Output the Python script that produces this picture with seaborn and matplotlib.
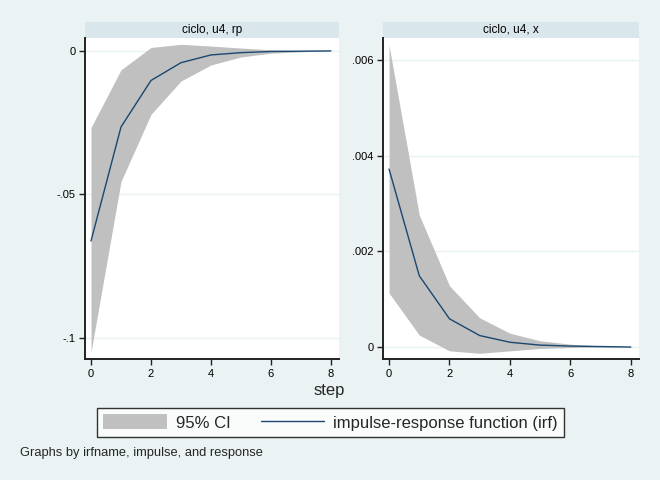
import numpy as np
import pandas as pd
import seaborn as sns
import matplotlib.pyplot as plt
from matplotlib.patches import Patch, Rectangle
from matplotlib.lines import Line2D
from matplotlib.ticker import FuncFormatter

# impulse responses
step = [0, 1, 2, 3, 4, 5, 6, 7, 8]

rp_irf = [-0.0662, -0.0265, -0.0103, -0.0041, -0.0014, -0.0006, -0.0002, -0.0001, 0.0]
rp_lo = [-0.1049, -0.0455, -0.0221, -0.0105, -0.0049, -0.0021, -0.0008, -0.0003, 0.0]
rp_hi = [-0.0267, -0.0066, 0.0012, 0.0023, 0.0017, 0.0010, 0.0004, 0.0001, 0.0]

x_irf = [0.00372, 0.00149, 0.00059, 0.00024, 0.00010, 0.00004, 0.00002, 0.00001, 0.0]
x_lo = [0.00113, 0.00025, -0.00008, -0.00013, -0.00008, -0.00003, -0.00001, 0.0, 0.0]
x_hi = [0.00631, 0.00276, 0.00128, 0.00061, 0.00029, 0.00013, 0.00006, 0.00002, 0.0]

panels = ["ciclo, u4, rp", "ciclo, u4, x"]
rp_ticks = [-0.1, -0.05, 0]
x_ticks = [0, 0.002, 0.004, 0.006]

df = pd.DataFrame({
    "step": step * 2,
    "irf": rp_irf + x_irf,
    "lo": rp_lo + x_lo,
    "hi": rp_hi + x_hi,
    "panel": [panels[0]] * 9 + [panels[1]] * 9,
})

sns.set_theme(style="white")
plt.rcParams["font.family"] = ["Liberation Sans", "DejaVu Sans"]

bg = "#eaf2f3"
strip = "#d9e6eb"
ci_col = "#c0c0c0"
line_col = "#1a476f"

W, H = 660, 480
fig = plt.figure(figsize=(6.6, 4.8), dpi=100, facecolor=bg)


def box(l, t, r, b):
    return [l / W, 1 - b / H, (r - l) / W, (b - t) / H]


def stata_fmt(v, pos):
    if abs(v) < 1e-12:
        return "0"
    s = ("%g" % v)
    s = s.replace("0.", ".")
    return s


ax1 = fig.add_axes(box(85, 38, 339, 359))
ax2 = fig.add_axes(box(383, 38, 639, 359))

specs = [
    (ax1, panels[0], rp_ticks, (-0.1073, 0.0045)),
    (ax2, panels[1], x_ticks, (-0.00025, 0.00646)),
]

for ax, name, yt, ylim in specs:
    sub = df[df["panel"] == name]
    ax.set_facecolor("white")
    ax.fill_between(sub["step"], sub["lo"], sub["hi"], color=ci_col, lw=0, zorder=2)
    sns.lineplot(data=sub, x="step", y="irf", ax=ax, color=line_col, lw=1.0,
                 zorder=3, legend=False)
    ax.set_xlim(-0.2, 8.27)
    ax.set_ylim(*ylim)
    ax.set_xticks([0, 2, 4, 6, 8])
    ax.set_yticks(yt)
    ax.yaxis.set_major_formatter(FuncFormatter(stata_fmt))
    ax.grid(axis="y", color=bg, lw=1.0, zorder=1)
    ax.set_axisbelow(True)
    ax.set_xlabel("")
    ax.set_ylabel("")
    for s in ["top", "right"]:
        ax.spines[s].set_visible(False)
    for s in ["left", "bottom"]:
        ax.spines[s].set_color("#222222")
        ax.spines[s].set_linewidth(1.4)
    ax.tick_params(axis="both", direction="out", length=4, width=1.0,
                   color="#222222", labelsize=8, pad=3, labelcolor="black",
                   left=True, bottom=True)
    # strip title
    hstrip = 16 / 321
    ax.add_patch(Rectangle((0, 1), 1, hstrip, transform=ax.transAxes,
                           facecolor=strip, edgecolor="none", clip_on=False))
    ax.text(0.5, 1 + hstrip / 2, name, transform=ax.transAxes, ha="center",
            va="center", fontsize=8.5, color="black")

fig.text(329 / W, 1 - 391 / H, "step", ha="center", va="center", fontsize=12)

handles = [
    Patch(facecolor=ci_col, edgecolor="none", label="95% CI"),
    Line2D([0], [0], color=line_col, lw=1.0, label="impulse-response function (irf)"),
]
leg = fig.legend(handles=handles, loc="center", ncol=2,
                 bbox_to_anchor=(330.5 / W, 1 - 422.5 / H), fontsize=12,
                 frameon=True, fancybox=False, edgecolor="black",
                 handlelength=3.8, handleheight=1.0, columnspacing=1.8,
                 handletextpad=0.55, borderpad=0.36, borderaxespad=0)
leg.get_frame().set_linewidth(1.0)
leg.get_frame().set_facecolor("white")

fig.text(20 / W, 1 - 453 / H, "Graphs by irfname, impulse, and response",
         ha="left", va="center", fontsize=9.3)

fig.savefig("out.png", dpi=100, facecolor=bg)
